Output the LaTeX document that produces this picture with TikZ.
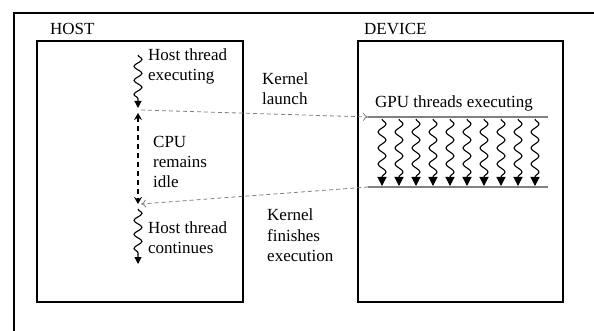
\documentclass[tikz,border=0pt]{standalone}
\usepackage{fontspec}
\setmainfont{Liberation Serif}
\usetikzlibrary{arrows.meta,decorations.pathmorphing}

\begin{document}
\begin{tikzpicture}[x=1pt,y=-1pt,font=\fontsize{17}{20}\selectfont,
  box/.style={draw,line width=1.4pt,minimum width=#1,minimum height=261pt,inner sep=0pt},
  lbl/.style={align=left,anchor=base west,inner sep=0pt},
  wave/.style={decorate,decoration={snake,amplitude=4pt,segment length=#1,post length=6pt}},
  hostthread/.style={wave=14pt,line width=1.1pt,-{Triangle[length=7pt,width=7pt]}},
  gputhread/.style={wave=16pt,line width=1.1pt,-{Triangle[length=9pt,width=9pt]}},
  idle/.style={line width=1.6pt,dash pattern=on 5pt off 4pt,{Stealth[length=7pt,width=8pt]}-{Stealth[length=7pt,width=8pt]}},
  call/.style={draw=gray,dash pattern=on 4pt off 3pt,line width=0.8pt,-{To[length=5pt,width=8pt]}},
  gpubar/.style={draw=gray,line width=1.2pt}]
  \useasboundingbox (0,0) rectangle (594,331);

  % Frame
  \draw[line width=1.4pt] (14,331) |- (594,13);

  % Host and device
  \node[box=206pt] (host) at (140,171.5) {};
  \node[box=205pt] (device) at (460.5,171.5) {};
  \node[lbl] (hostlbl) at (50,35) {HOST};
  \node[lbl] (devlbl) at (364,35) {DEVICE};

  % Host side (labels sit on their last line)
  \coordinate (h1s) at (138,55);
  \coordinate (h1e) at (138,108);
  \coordinate (idletop) at (138,113);
  \coordinate (idlebot) at (138,204);
  \coordinate (h2s) at (138,209);
  \coordinate (h2e) at (138,264);
  \draw[hostthread] (h1s) -- (h1e);
  \draw[idle] (idletop) -- (idlebot);
  \draw[hostthread] (h2s) -- (h2e);
  \node[lbl] (hostexec) at (148,81) {Host thread\\executing};
  \node[lbl] (cpuidle) at (153,188) {CPU\\remains\\idle};
  \node[lbl] (hostcont) at (148,253) {Host thread\\continues};

  % Device side
  \coordinate (gtl) at (368,117);
  \coordinate (gtr) at (548,117);
  \coordinate (gbl) at (368,187);
  \coordinate (gbr) at (548,187);
  \draw[gpubar] (gtl) -- (gtr);
  \draw[gpubar] (gbl) -- (gbr);
  \node[lbl] (gpulbl) at (375,108) {GPU threads executing};
  \foreach \i in {0,...,9}
    \draw[gputhread] (382+17*\i,119) -- (382+17*\i,186);

  % Kernel calls
  \coordinate (launchsrc) at (141,110);
  \coordinate (finishdst) at (141,204);
  \draw[call] (launchsrc) -- (gtl);
  \draw[call] (gbl) -- (finishdst);
  \node[lbl] (klaunch) at (262,105) {Kernel\\launch};
  \node[lbl] (kfinish) at (267,261) {Kernel\\finishes\\execution};
\end{tikzpicture}
\end{document}
